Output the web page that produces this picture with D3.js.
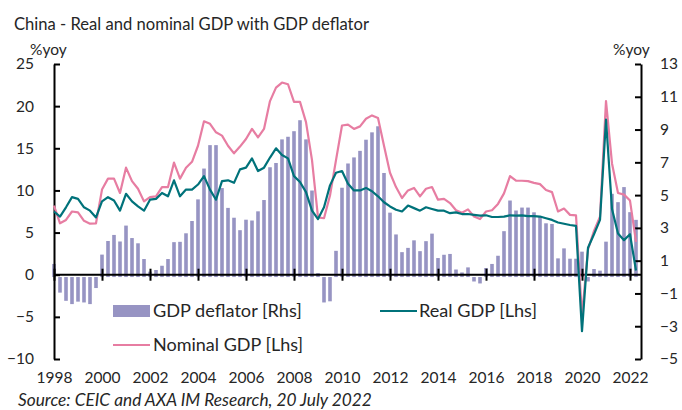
<!DOCTYPE html>
<html><head><meta charset="utf-8">
<script src="https://cdn.jsdelivr.net/npm/d3@7"></script>
<style>
html,body{margin:0;padding:0;background:#fff;}
svg{display:block;font-family:Lato,"Open Sans",sans-serif;}
</style></head>
<body><svg id="c" width="682" height="410"></svg>
<script>
// ---- data (quarterly, 1998Q1 .. 2022Q2) ----
const years = d3.range(1998, 2023);
const quarters = [];
years.forEach(y => [1,2,3,4].forEach(q => { if (!(y === 2022 && q > 2)) quarters.push(y + "Q" + q); }));

const realGDP = [7.5,6.9,8.0,9.2, 9.0,8.0,7.6,6.8, 8.7,9.2,8.8,7.6, 9.6,8.7,8.1,7.6,
 8.9,9.0,9.7,9.3, 11.2,9.3,10.1,10.1, 10.7,11.7,10.1,8.9, 11.1,11.2,10.9,12.5,
 12.7,13.8,12.3,12.7, 13.9,15.0,14.2,13.8, 11.7,11.0,9.8,7.6, 6.6,8.0,10.6,12.1,
 12.3,10.8,10.0,10.0, 10.3,9.9,9.3,8.6, 8.1,7.7,7.5,8.2, 7.9,7.6,8.0,7.8,
 7.6,7.6,7.3,7.4, 7.2,7.2,7.1,7.0, 7.05,6.85,6.85,6.9, 7.05,7.0,7.05,6.95,
 6.95,6.9,6.7,6.5, 6.2,6.05,5.9,5.8, -6.7,3.2,4.8,6.5, 18.4,7.8,4.9,4.1, 4.8,0.5];

const nominalGDP = [8.2,6.1,6.5,7.5, 7.4,6.4,6.05,6.1, 10.1,11.4,11.4,9.7, 12.7,11.1,10.2,8.7,
 9.2,9.3,10.4,10.4, 13.3,11.4,12.7,13.4, 15.3,18.2,17.9,16.9, 16.5,15.3,14.4,15.2,
 16.1,17.3,16.3,17.3, 20.6,22.2,22.8,22.6, 20.5,20.5,18.1,13.6, 6.8,6.7,9.4,13.6,
 17.7,17.8,17.3,17.6, 18.5,18.9,18.6,15.3, 12.1,10.4,9.1,10.0, 10.3,9.3,10.2,10.4,
 8.9,9.0,8.5,7.65, 7.35,7.75,6.9,6.6, 7.5,7.65,8.4,9.65, 11.7,11.15,11.15,11.1,
 10.9,10.75,10.05,9.8, 7.5,7.85,7.1,7.05, -4.9,3.0,5.2,6.9, 20.6,13.2,9.7,9.5, 8.8,3.9];

const gdpDeflator = [0.8,-0.95,-1.45,-1.65, -1.5,-1.55,-1.65,-0.67, 1.37,2.2,2.57,2.17, 3.14,2.38,2.06,1.1,
 0.33,0.43,0.69,1.1, 2.13,2.15,2.67,3.42, 4.74,6.62,8.05,8.05, 5.43,4.22,3.62,2.86,
 3.5,3.45,4.01,4.7, 6.7,6.96,8.4,8.56, 8.9,9.57,8.4,5.28, 0.24,-1.55,-1.48,1.6,
 5.45,6.93,7.3,7.7, 8.38,8.83,9.2,6.35, 3.93,2.6,1.52,1.78, 2.24,1.58,2.19,2.65,
 1.16,1.36,1.41,0.46, 0.28,0.59,-0.27,-0.39, 0.55,0.8,1.3,2.8, 4.67,4.06,4.24,4.24,
 3.95,3.7,3.28,3.24, 1.14,1.75,1.12,1.12, 1.55,-0.27,0.49,0.39, 2.16,5.08,4.57,5.49, 3.96,3.49];

const leftTicks = [25,20,15,10,5,0,-5,-10];
const rightTicks = [13,11,9,7,5,3,1,-1,-3,-5];
const xTickLabels = ["1998","2000","2002","2004","2006","2008","2010","2012","2014","2016","2018","2020","2022"];

const titleText = "China - Real and nominal GDP with GDP deflator";
const sourceText = "Source: CEIC and AXA IM Research, 20 July 2022";
const legendLabels = ["GDP deflator [Rhs]", "Real GDP [Lhs]", "Nominal GDP [Lhs]"];

// ---- layout ----
const C = {bar:"#9794c3", real:"#00727a", nominal:"#e77da2", text:"#262626", axis:"#000"};
const L = 54, R = 641, T = 64, B = 359;
const svg = d3.select("#c");

const x = d3.scaleLinear().domain([0, quarters.length]).range([L, L + 6 * quarters.length]);
const yL = d3.scaleLinear().domain([-10, 25]).range([B, T]);
const yR = d3.scaleLinear().domain([-5, 13]).range([B, T]);

function fit(sel, w) {
  const n = sel.node(); const cur = n.getComputedTextLength();
  const fs = parseFloat(sel.attr("font-size"));
  sel.attr("font-size", (fs * w / cur).toFixed(2));
}

// bars
svg.append("g").selectAll("rect").data(gdpDeflator).join("rect")
  .attr("x", (d, i) => x(i) - 1.8).attr("width", 3.6)
  .attr("y", d => Math.min(yR(d), yR(0)))
  .attr("height", d => Math.abs(yR(d) - yR(0)))
  .attr("fill", C.bar);

// axes
const gl = svg.append("g").attr("transform", `translate(${L},0)`)
  .call(d3.axisLeft(yL).tickValues(leftTicks).tickSize(-6).tickPadding(20).tickSizeOuter(0));
const gr = svg.append("g").attr("transform", `translate(${R},0)`)
  .call(d3.axisRight(yR).tickValues(rightTicks).tickSize(-6).tickPadding(19).tickSizeOuter(0));
[gl, gr].forEach(g => {
  g.select(".domain").attr("stroke", C.axis).attr("stroke-width", 2);
  g.selectAll(".tick line").attr("stroke", C.axis).attr("stroke-width", 2);
  g.selectAll(".tick text").attr("fill", C.text).attr("font-size", 15.5).attr("font-family", "Lato,'Open Sans',sans-serif");
});

const xTickIdx = xTickLabels.map((d, k) => k * 8);
const gx = svg.append("g").attr("transform", `translate(0,${yL(0)})`)
  .call(d3.axisBottom(x).tickValues(xTickIdx).tickSize(6).tickSizeOuter(0).tickFormat(""));
gx.select(".domain").attr("d", `M${L},0H${R}`).attr("stroke", C.axis).attr("stroke-width", 2);
gx.selectAll(".tick line").attr("y1", -6).attr("y2", 6).attr("stroke", C.axis).attr("stroke-width", 2);

const gxl = svg.append("g").attr("transform", `translate(0,372)`)
  .call(d3.axisBottom(x).tickValues(xTickIdx).tickSize(0).tickPadding(0).tickFormat((d, k) => xTickLabels[k]));
gxl.select(".domain").remove();
gxl.selectAll(".tick text").attr("fill", C.text).attr("font-size", 15.5).attr("font-family", "Lato,'Open Sans',sans-serif");

// lines
const line = y => d3.line().x((d, i) => x(i)).y(d => y(d));
svg.append("path").datum(nominalGDP).attr("d", line(yL)).attr("fill", "none")
  .attr("stroke", C.nominal).attr("stroke-width", 2.2).attr("stroke-linejoin", "round");
svg.append("path").datum(realGDP).attr("d", line(yL)).attr("fill", "none")
  .attr("stroke", C.real).attr("stroke-width", 2.2).attr("stroke-linejoin", "round");

// titles
const title = svg.append("text").attr("x", 14).attr("y", 30).attr("font-size", 21).attr("fill", C.text).text(titleText);
fit(title, 355);
svg.append("text").attr("x", 30).attr("y", 55).attr("font-size", 15.5).attr("fill", C.text).text("%yoy");
svg.append("text").attr("x", 613).attr("y", 55).attr("font-size", 15.5).attr("fill", C.text).text("%yoy");
const src = svg.append("text").attr("x", 18).attr("y", 406).attr("font-size", 14).attr("font-style", "italic").attr("fill", C.text).text(sourceText);
fit(src, 354);

// legend
const lg = svg.append("g");
lg.append("rect").attr("x", 113).attr("y", 305).attr("width", 37).attr("height", 12).attr("fill", C.bar);
const t1 = lg.append("text").attr("x", 153).attr("y", 317).attr("font-size", 16).attr("fill", C.text).text(legendLabels[0]); fit(t1, 149);
lg.append("line").attr("x1", 380).attr("x2", 417).attr("y1", 311).attr("y2", 311).attr("stroke", C.real).attr("stroke-width", 2.2);
const t2 = lg.append("text").attr("x", 419).attr("y", 317).attr("font-size", 16).attr("fill", C.text).text(legendLabels[1]); fit(t2, 118);
lg.append("line").attr("x1", 113).attr("x2", 150).attr("y1", 345).attr("y2", 345).attr("stroke", C.nominal).attr("stroke-width", 2.2);
const t3 = lg.append("text").attr("x", 153).attr("y", 351).attr("font-size", 16).attr("fill", C.text).text(legendLabels[2]); fit(t3, 150);
</script></body></html>
